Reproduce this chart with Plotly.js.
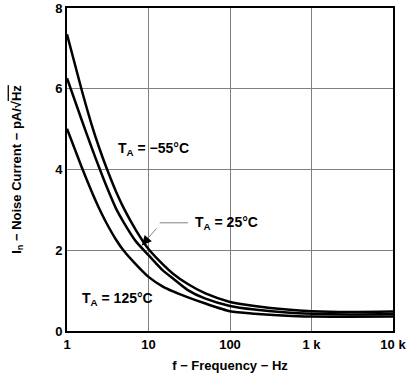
<!DOCTYPE html>
<html>
<head>
<meta charset="utf-8">
<script src="https://cdn.plot.ly/plotly-3.0.1.min.js"></script>
<style>html,body{margin:0;padding:0;background:#fff;}#chart{width:409px;height:376px;}</style>
</head>
<body>
<div id="chart"></div>
<script>
// Frequency (Hz)
const freq = [1, 1.5, 2, 2.5, 3, 4, 5, 7, 10, 15, 20, 30, 50, 100, 200, 500, 1000, 3000, 10000];
// Noise current (pA/√Hz)
const noiseM55 = [7.35, 6.0, 5.12, 4.52, 4.08, 3.45, 3.03, 2.5, 2.03, 1.65, 1.42, 1.17, 0.93, 0.72, 0.62, 0.53, 0.49, 0.47, 0.48];
const noise25  = [6.26, 5.25, 4.55, 4.03, 3.62, 3.03, 2.68, 2.22, 1.88, 1.5, 1.3, 1.02, 0.8, 0.62, 0.53, 0.46, 0.43, 0.41, 0.42];
const noise125 = [5.01, 4.08, 3.46, 3.02, 2.7, 2.26, 1.98, 1.65, 1.34, 1.1, 0.98, 0.84, 0.68, 0.49, 0.43, 0.38, 0.36, 0.35, 0.36];
const seriesNames = ['T<sub>A</sub> = −55°C', 'T<sub>A</sub> = 25°C', 'T<sub>A</sub> = 125°C'];
const xTickVals = [1, 10, 100, 1000, 10000];
const xTickText = ['1', '10', '100', '1 k', '10 k'];
const yTickVals = [0, 2, 4, 6, 8];

const FONT = 'Liberation Sans, Arial, Helvetica, sans-serif';
const lineStyle = {color: '#000', width: 2.5, shape: 'spline', smoothing: 0.6};
const traces = [noiseM55, noise25, noise125].map((v, i) => ({
  x: freq, y: v, type: 'scatter', mode: 'lines', name: seriesNames[i],
  line: lineStyle, hoverinfo: 'skip'
}));

const layout = {
  width: 409, height: 376,
  margin: {l: 67, r: 16, t: 8, b: 45},
  paper_bgcolor: '#fff', plot_bgcolor: '#fff',
  showlegend: false,
  font: {family: FONT, size: 13, color: '#000', weight: 'bold'},
  xaxis: {
    type: 'log', range: [0, 4],
    tickvals: xTickVals, ticktext: xTickText,
    showgrid: true, gridcolor: '#808080', gridwidth: 1,
    showline: true, mirror: true, linecolor: '#000', linewidth: 2,
    ticks: '', zeroline: false, ticklabeloverflow: 'allow',
    tickfont: {family: FONT, size: 13, weight: 'bold'},
    title: {text: 'f − Frequency − Hz', font: {family: FONT, size: 13, weight: 'bold'}, standoff: 10}
  },
  yaxis: {
    range: [0, 8], tickvals: yTickVals,
    showgrid: true, gridcolor: '#808080', gridwidth: 1,
    showline: true, mirror: true, linecolor: '#000', linewidth: 2,
    ticks: '', zeroline: false, ticklabeloverflow: 'allow',
    tickfont: {family: FONT, size: 13, weight: 'bold'},
    title: {text: 'I<sub>n</sub> − Noise Current − pA/√<span style="text-decoration:overline">Hz</span>', font: {family: FONT, size: 13, weight: 'bold'}, standoff: 31}
  },
  shapes: [
    {type: 'line', xref: 'x', yref: 'y', x0: 13.7, x1: 30.5, y0: 2.68, y1: 2.68, line: {color: '#808080', width: 1}}
  ],
  annotations: [
    {x: Math.log10(11.6), y: 4.5, xref: 'x', yref: 'y', text: 'T<sub>A</sub> = −55°C', showarrow: false,
     font: {family: FONT, size: 14, weight: 'bold'}},
    {x: Math.log10(35), y: 2.68, xref: 'x', yref: 'y', text: 'T<sub>A</sub> = 25°C', showarrow: false, xanchor: 'left',
     font: {family: FONT, size: 14, weight: 'bold'}},
    {x: Math.log10(4.2), y: 0.8, xref: 'x', yref: 'y', text: 'T<sub>A</sub> = 125°C', showarrow: false,
     font: {family: FONT, size: 14, weight: 'bold'}},
    {x: Math.log10(8.3), y: 2.12, xref: 'x', yref: 'y', text: ' ', showarrow: true, arrowhead: 0,
     ax: 18, ay: -21, arrowcolor: '#808080', arrowwidth: 1},
    {x: Math.log10(8.3), y: 2.12, xref: 'x', yref: 'y', text: ' ', showarrow: true, arrowhead: 2, arrowsize: 1.6,
     ax: 7, ay: -8, arrowcolor: '#000', arrowwidth: 1.2}
  ]
};

Plotly.newPlot('chart', traces, layout, {displayModeBar: false, staticPlot: true});
</script>
</body>
</html>
